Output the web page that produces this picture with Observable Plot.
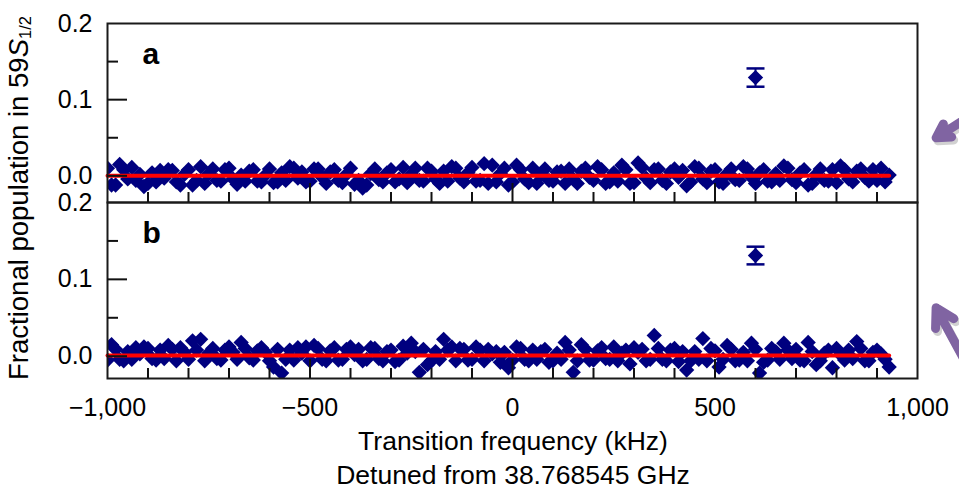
<!DOCTYPE html>
<html><head><meta charset="utf-8">
<script src="https://cdn.jsdelivr.net/npm/d3@7"></script>
<script src="https://cdn.jsdelivr.net/npm/@observablehq/plot@0.6"></script>
<style>
body{margin:0;background:#fff;}
#wrap{position:relative;width:959px;height:497px;overflow:hidden;font-family:"Liberation Sans",Arial,sans-serif;color:#000;background:#fff;}
#wrap svg{position:absolute;left:0;overflow:visible;}
.lbl{position:absolute;white-space:nowrap;font-size:26.5px;line-height:30px;}
.lbl sub{font-size:0.6em;vertical-align:-0.2em;}
</style></head><body><div id="wrap"></div>
<script>
// Frequencies (kHz, detuned from 38.768545 GHz), first interleaved set
const freq1 = [
  -990,-970,-950,-930,-910,-890,-870,-850,-830,-810,
  -790,-770,-750,-730,-710,-690,-670,-650,-630,-610,
  -590,-570,-550,-530,-510,-490,-470,-450,-430,-410,
  -390,-370,-350,-330,-310,-290,-270,-250,-230,-210,
  -190,-170,-150,-130,-110,-90,-70,-50,-30,-10,
  10,30,50,70,90,110,130,150,170,190,
  210,230,250,270,290,310,330,350,370,390,
  410,430,450,470,490,510,530,550,570,590,
  610,630,650,670,690,710,730,750,770,790,
  810,830,850,870,890,910,930
];
// Second interleaved set
const freq2 = [
  -1000,-980,-960,-940,-920,-900,-880,-860,-840,-820,
  -800,-780,-760,-740,-720,-700,-680,-660,-640,-620,
  -600,-580,-560,-540,-520,-500,-480,-460,-440,-420,
  -400,-380,-360,-340,-320,-300,-280,-260,-240,-220,
  -200,-180,-160,-140,-120,-100,-80,-60,-40,-20,
  0,20,40,60,80,100,120,140,160,180,
  200,220,240,260,280,300,320,340,360,380,
  400,420,440,460,480,500,520,540,560,580,
  600,620,640,660,680,700,720,740,760,780,
  800,820,840,860,880,900,920
];
// Panel a: fractional population in 59S1/2
const popA1 = [
  -0.012,0.015,-0.004,-0.006,-0.014,0.004,0.007,0.008,-0.008,0.002,
  -0.012,0.012,0.003,-0.006,0.008,-0.004,0.001,0.006,-0.007,0.001,
  -0.009,0.004,0.012,-0.003,-0.008,0.009,-0.002,0.005,-0.006,0.002,
  -0.011,-0.016,0.003,-0.005,0.004,-0.008,0.011,0.002,-0.006,0.010,
  -0.004,0.006,0.012,-0.003,0.004,-0.007,0.016,0.014,0.003,-0.012,
  0.014,-0.004,0.010,0.002,-0.006,0.005,-0.010,-0.004,0.006,-0.002,
  0.012,-0.010,0.004,0.014,-0.010,0.017,-0.003,0.008,-0.006,0.005,
  -0.002,-0.013,0.012,-0.004,0.006,-0.008,0.003,-0.005,0.012,-0.002,
  0.004,-0.007,0.003,0.013,-0.005,0.004,-0.012,0.002,-0.006,0.008,
  0.013,-0.004,0.006,-0.002,0.008,0.010,0.001
];
const popA2 = [
  0.010,-0.012,0.008,0.011,0.002,-0.010,-0.008,-0.003,0.007,-0.012,
  0.008,-0.006,-0.010,0.009,-0.007,0.010,-0.011,-0.007,0.008,-0.008,
  0.009,-0.008,-0.006,0.010,0.005,-0.007,0.009,-0.010,0.008,-0.009,
  0.010,-0.006,-0.012,0.009,-0.008,0.008,-0.004,-0.009,0.010,-0.007,
  0.006,-0.010,-0.007,0.010,-0.008,0.011,-0.006,-0.010,-0.008,0.010,
  -0.008,0.008,-0.009,-0.010,0.009,-0.007,0.006,0.009,-0.010,0.010,
  -0.006,0.008,-0.008,-0.007,0.008,-0.009,0.011,-0.009,0.009,-0.010,
  0.009,0.007,-0.008,0.010,-0.009,0.008,-0.010,0.009,-0.006,0.009,
  -0.010,0.008,-0.008,-0.006,0.010,-0.009,0.008,-0.010,0.009,-0.007,
  -0.009,0.008,-0.008,0.009,-0.007,-0.006,-0.008
];
// Panel b
const popB1 = [
  0.015,-0.004,0.006,0.011,0.012,-0.003,0.008,0.014,-0.006,0.005,
  0.020,0.022,0.004,-0.003,0.008,0.005,0.018,-0.002,0.007,0.005,
  -0.014,-0.022,0.008,0.011,0.012,0.014,-0.004,0.007,-0.005,0.009,
  0.002,-0.006,0.011,-0.003,0.006,-0.007,0.013,0.017,-0.021,-0.011,
  0.006,0.022,0.012,0.010,-0.005,0.012,-0.006,0.003,-0.008,-0.015,
  0.012,-0.004,0.008,0.006,-0.008,0.004,0.018,-0.021,0.015,-0.005,
  0.007,-0.003,0.012,0.004,-0.010,0.005,-0.006,0.027,-0.004,0.008,
  -0.007,-0.018,0.006,0.023,0.010,-0.014,0.014,-0.006,0.005,0.017,
  -0.022,-0.005,0.006,0.017,-0.003,-0.005,0.018,-0.011,0.004,-0.015,
  0.002,0.008,0.019,-0.006,0.005,0.003,-0.014
];
const popB2 = [
  -0.005,0.009,-0.006,-0.004,0.003,0.010,-0.005,-0.003,0.009,0.011,
  -0.004,0.008,-0.006,0.010,-0.005,0.012,-0.004,0.010,-0.005,0.011,
  -0.006,0.009,-0.004,-0.005,0.004,-0.006,0.010,-0.006,0.011,-0.004,
  0.012,0.009,-0.004,0.010,-0.006,0.008,-0.005,0.004,0.006,0.009,
  -0.006,-0.004,0.008,-0.006,0.009,-0.004,0.008,0.009,0.006,0.005,
  -0.005,0.010,-0.006,-0.004,0.009,-0.006,-0.004,0.008,-0.006,0.009,
  -0.005,0.011,-0.004,-0.006,0.008,0.011,0.009,-0.004,0.010,-0.006,
  0.010,0.006,-0.006,-0.004,-0.006,0.007,-0.004,0.009,-0.005,-0.006,
  0.009,-0.008,0.010,-0.004,0.008,0.009,-0.006,0.006,-0.006,0.008,
  0.010,-0.005,-0.003,0.010,-0.006,0.008,-0.004
];
// Isolated point with error bar (panel a, panel b)
const outlierFreq = [600, 600];
const outlierPop = [0.129, 0.131];
const outlierErr = [0.012, 0.0115];
// Red fit line
const fitFreq = [-1000, 930];
const fitA = [0.000, 0.000];
const fitB = [0.001, 0.001];
// Axis extents and ticks
const xDomain = [-1000, 1000];
const yDomainA = [-0.035, 0.2];
const yDomainB = [-0.029, 0.2];
const yLabelTicks = [0, 0.1, 0.2];
const yMajorTicks = [0, 0.1];
const yMinorTicks = [0.05, 0.15];
const xLabelTicks = [-1000, -500, 0, 500, 1000];
const xMajorTicks = [-500, 0, 500];
const xMinorTicks = [-900,-800,-700,-600,-400,-300,-200,-100,100,200,300,400,600,700,800,900];
const panelLetters = ["a", "b"];
// Annotation arrows in the right margin
const arrowA = [{x1: 1143, y1: 0.083, x2: 1046, y2: 0.050}];
const arrowB = [{x1: 1119, y1: -0.008, x2: 1046, y2: 0.063}];

const navy = "#00007f";
const purple = "#8064a2";
const cap = {draw(ctx, size) { const w = Math.sqrt(size / Math.PI); ctx.moveTo(-w, 0); ctx.lineTo(w, 0); }};
const plotW = 810;

function panel({pops, idx, fit, yDomain, arrow, height, marginTop, marginBottom, xLabels}) {
  const plotH = height - marginTop - marginBottom;
  const rows = [
    ...freq1.map((f, i) => ({f, p: pops[0][i]})),
    ...freq2.map((f, i) => ({f, p: pops[1][i]}))
  ];
  const out = [{f: outlierFreq[idx], p: outlierPop[idx], e: outlierErr[idx]}];
  const fitRows = fitFreq.map((f, i) => ({f, p: fit[i]}));
  return Plot.plot({
    width: 959, height, marginTop, marginBottom, marginLeft: 107, marginRight: 42,
    x: {domain: xDomain, label: null},
    y: {domain: yDomain, label: null},
    style: {fontFamily: '"Liberation Sans", Arial, sans-serif', fontSize: "25px", color: "#000", background: "transparent", overflow: "visible"},
    marks: [
      Plot.dot(rows, {x: "f", y: "p", symbol: "diamond2", r: 6.9, fill: navy, clip: true}),
      Plot.line(fitRows, {x: "f", y: "p", stroke: "#ff0000", strokeWidth: 4}),
      Plot.ruleX(out, {x: "f", y1: d => d.p - d.e, y2: d => d.p + d.e, stroke: navy, strokeWidth: 2}),
      Plot.dot(out, {x: "f", y: d => d.p - d.e, symbol: cap, r: 9, stroke: navy, strokeWidth: 2.5, fill: "none"}),
      Plot.dot(out, {x: "f", y: d => d.p + d.e, symbol: cap, r: 9, stroke: navy, strokeWidth: 2.5, fill: "none"}),
      Plot.dot(out, {x: "f", y: "p", symbol: "diamond2", r: 6.9, fill: navy}),
      Plot.frame({stroke: "#1a1a1a", strokeWidth: 2}),
      Plot.tickY(yMajorTicks, {y: d => d, insetRight: plotW - 20, stroke: "#111", strokeWidth: 2}),
      Plot.tickY(yMinorTicks, {y: d => d, insetRight: plotW - 11, stroke: "#111", strokeWidth: 2}),
      Plot.tickX(xMajorTicks, {x: d => d, insetTop: plotH - 19, stroke: "#111", strokeWidth: 2}),
      Plot.tickX(xMinorTicks, {x: d => d, insetTop: plotH - 10, stroke: "#111", strokeWidth: 2}),
      Plot.axisY({ticks: yLabelTicks, tickSize: 0, tickPadding: 15, tickFormat: d3.format(".1f"), label: null}),
      xLabels ? Plot.axisX({ticks: xLabelTicks, tickSize: 0, tickPadding: 20, tickFormat: d3.format(","), label: null}) : Plot.axisX({ticks: [], label: null}),
      Plot.text([panelLetters[idx]], {text: d => d, frameAnchor: "top-left", dx: 35, dy: 19, fontSize: 30, fontWeight: "bold"}),
      Plot.arrow(arrow, {x1: "x1", y1: "y1", x2: "x2", y2: "y2", stroke: "#000", strokeOpacity: 0.18, strokeWidth: 9, headLength: 20, dx: 2, dy: 3}),
      Plot.arrow(arrow, {x1: "x1", y1: "y1", x2: "x2", y2: "y2", stroke: purple, strokeWidth: 9, headLength: 20})
    ]
  });
}

const wrap = document.getElementById("wrap");
const svgA = panel({pops: [popA1, popA2], idx: 0, fit: fitA, yDomain: yDomainA, arrow: arrowA, height: 203, marginTop: 23, marginBottom: 1, xLabels: false});
svgA.style.top = "0px";
const svgB = panel({pops: [popB1, popB2], idx: 1, fit: fitB, yDomain: yDomainB, arrow: arrowB, height: 237, marginTop: 1, marginBottom: 60, xLabels: true});
svgB.style.top = "201px";
wrap.appendChild(svgB);
wrap.appendChild(svgA);

const yl = document.createElement("div");
yl.className = "lbl";
yl.style.fontSize = "27.5px";
yl.style.left = "22px"; yl.style.top = "198px";
yl.style.transform = "translate(-50%,-50%) rotate(-90deg)";
yl.innerHTML = "Fractional population in 59<i>S</i><sub>1/2</sub>";
wrap.appendChild(yl);

const xl1 = document.createElement("div");
xl1.className = "lbl";
xl1.style.left = "513px"; xl1.style.top = "426px"; xl1.style.transform = "translateX(-50%)";
xl1.textContent = "Transition frequency (kHz)";
wrap.appendChild(xl1);
const xl2 = document.createElement("div");
xl2.className = "lbl";
xl2.style.left = "513px"; xl2.style.top = "460px"; xl2.style.transform = "translateX(-50%)";
xl2.textContent = "Detuned from 38.768545 GHz";
wrap.appendChild(xl2);
</script></body></html>
